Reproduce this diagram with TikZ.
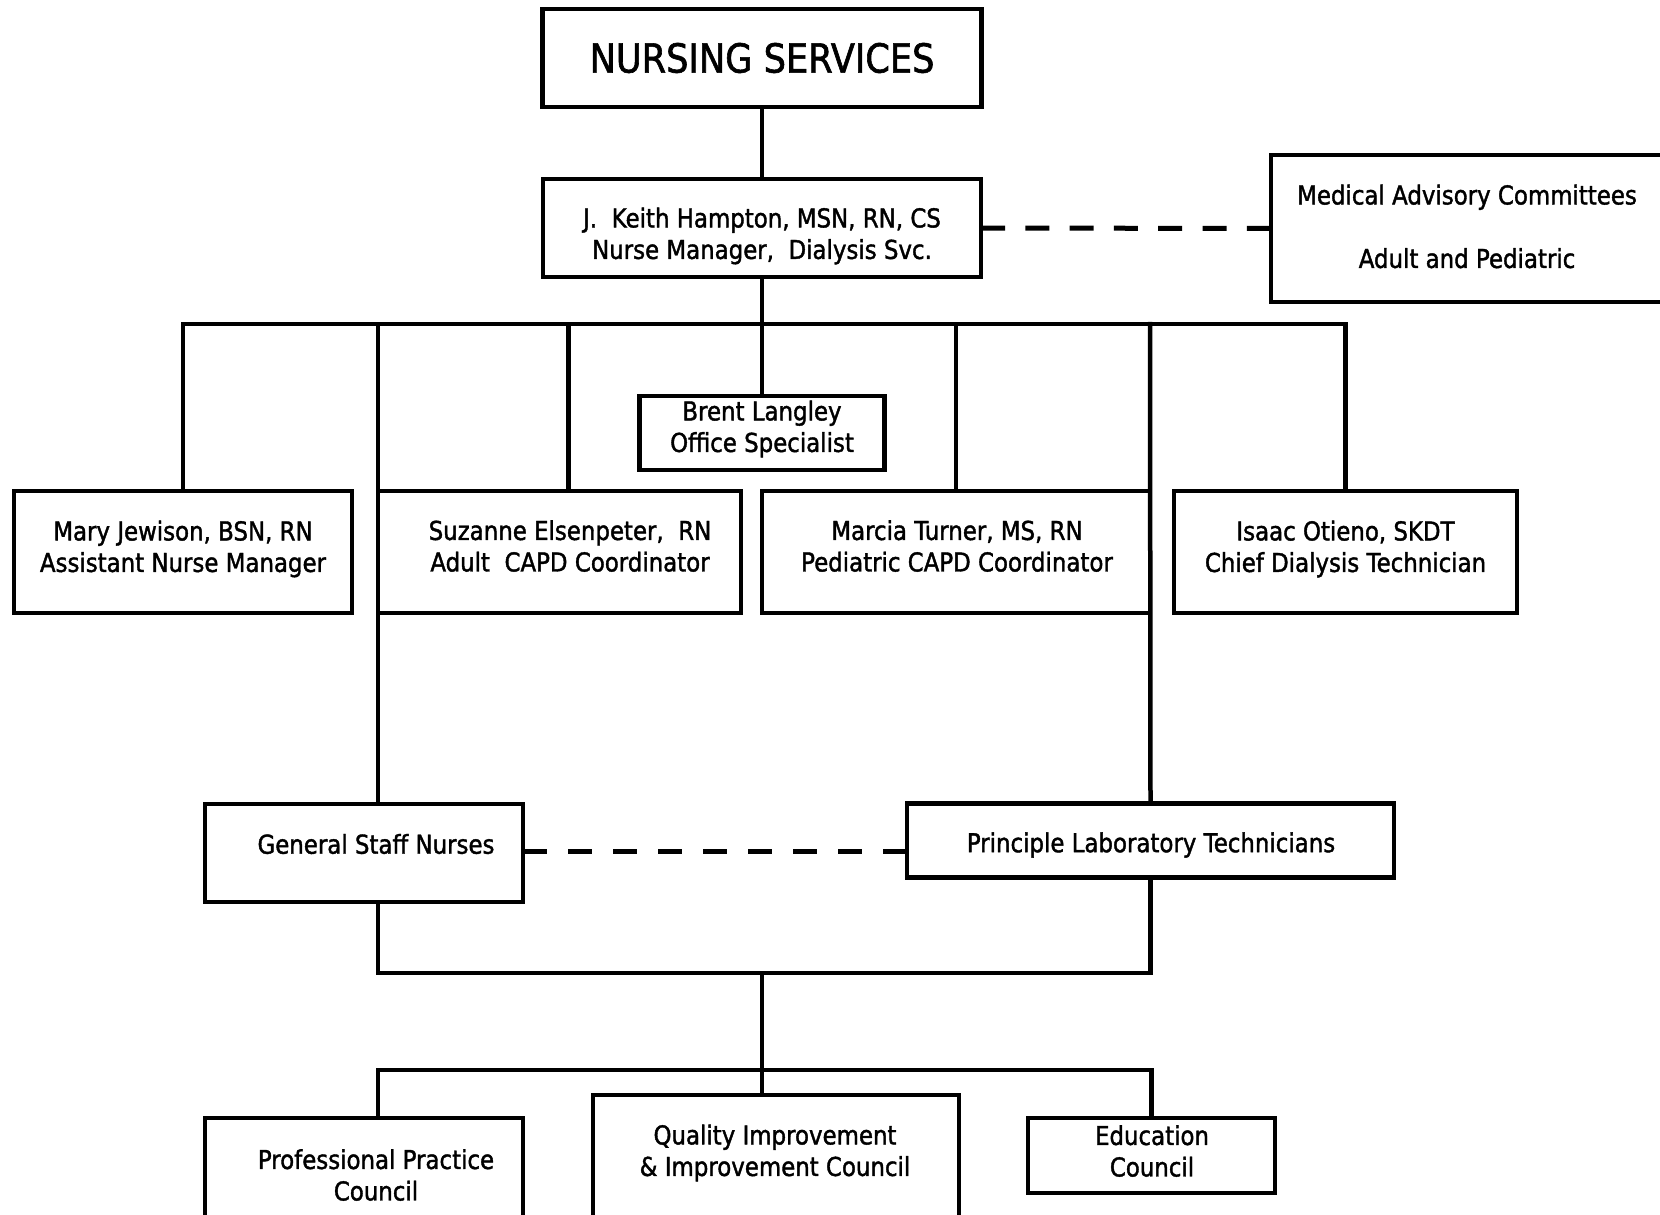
\documentclass[tikz,border=0pt]{standalone}
\usepackage{fontspec}
\setmainfont[FakeStretch=0.88,FakeBold=1.5]{DejaVu Sans}
\begin{document}
\begin{tikzpicture}[x=1pt,y=-1pt,
  box/.style={draw, line width=4.5pt, inner sep=0pt, outer sep=0pt, align=center,
              font=\fontsize{26}{31.5}\selectfont},
  txt/.style={inner sep=0pt, align=center, font=\fontsize{26}{31.5}\selectfont},
  link/.style={line width=4.5pt, line cap=rect},
  dashlink/.style={line width=5pt}]
\clip (0,0) rectangle (1660,1215);

% top of the chart
\node[box, minimum width=439pt, minimum height=98pt, font=\fontsize{40}{46}\selectfont]
  (ns) at (762,58) {NURSING SERVICES};
\node[box, minimum width=438pt, minimum height=98pt] (hampton) at (762,228) {};
\node[txt] (hamptonT) at (762,236)
  {J.\ \ Keith Hampton, MSN, RN, CS\\Nurse Manager,\ \ Dialysis Svc.};
\node[box, minimum width=392pt, minimum height=147pt] (medical) at (1467,228.5) {};
\node[txt] (medicalT) at (1467,226.5)
  {Medical Advisory Committees\\[32pt]Adult and Pediatric};

% staff reporting to the nurse manager
\coordinate (bus) at (762,324);
\node[box, minimum width=245pt, minimum height=74pt] (brent) at (762,433) {};
\node[txt] (brentT) at (762,429) {Brent Langley\\Office Specialist};
\node[box, minimum width=338pt, minimum height=122pt] (mary) at (183,552) {};
\node[txt] (maryT) at (183,549) {Mary Jewison, BSN, RN\\Assistant Nurse Manager};
\node[box, minimum width=363pt, minimum height=122pt] (suzanne) at (559.5,552) {};
\node[txt] (suzanneT) at (570,546)
  {Suzanne Elsenpeter,\ \ RN\\Adult\ \ CAPD Coordinator};
\node[box, minimum width=388pt, minimum height=122pt] (marcia) at (956,552) {};
\node[txt] (marciaT) at (957,546) {Marcia Turner, MS, RN\\Pediatric CAPD Coordinator};
\node[box, minimum width=343pt, minimum height=122pt] (isaac) at (1345.5,552) {};
\node[txt] (isaacT) at (1345.5,549) {Isaac Otieno, SKDT\\Chief Dialysis Technician};

% staff groups
\node[box, minimum width=318pt, minimum height=98pt] (gsn) at (364,853) {};
\node[txt] (gsnT) at (376,844) {General Staff Nurses};
\node[box, minimum width=487pt, minimum height=74pt] (plt) at (1150.5,840.5) {};
\node[txt] (pltT) at (1151,845) {Principle Laboratory Technicians};

% councils
\coordinate (join) at (762,973);
\coordinate (bus2) at (762,1070);
\node[box, minimum width=318pt, minimum height=122pt] (pp) at (364,1179) {};
\node[txt] (ppT) at (376,1175) {Professional Practice\\Council};
\node[box, minimum width=366pt, minimum height=150pt] (qi) at (776,1170) {};
\node[txt] (qiT) at (775,1153) {Quality Improvement\\\& Improvement Council};
\node[box, minimum width=247pt, minimum height=75pt] (edu) at (1151.5,1155.5) {};
\node[txt] (eduT) at (1152,1151) {Education\\Council};

% connectors
\draw[link] (ns.south) -- (hampton.north);
\draw[dashlink, dash pattern=on 24pt off 20.3pt] (hampton.east) -- (medical.west);
\draw[link] (hampton.south) -- (brent.north);
\draw[link] (mary.north |- bus) -- (isaac.north |- bus);
\draw[link] (mary.north) -- (mary.north |- bus);
\draw[link] ([xshift=9pt]suzanne.north) -- ([xshift=9pt]suzanne.north |- bus);
\draw[link] (marcia.north) -- (marcia.north |- bus);
\draw[link] (isaac.north) -- (isaac.north |- bus);
\draw[link] (suzanne.west |- bus) -- (gsn.north -| suzanne.west);
\draw[link] (marcia.east |- bus) -- (plt.north);
\draw[dashlink, dash pattern=on 24pt off 21pt] (gsn.east |- 0,851) -- (plt.west |- 0,851);
\draw[link] (gsn.south -| suzanne.west) |- (join) -| (plt.south);
\draw[link] (join) -- (bus2);
\draw[link] (pp.north -| suzanne.west) |- (bus2) -| (edu.north);
\draw[link] (bus2) -- (bus2 |- qi.north);
\end{tikzpicture}
\end{document}
